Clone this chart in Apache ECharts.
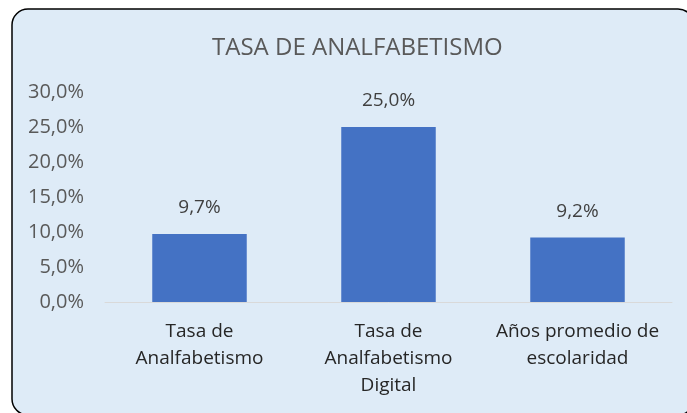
<!DOCTYPE html>
<html>
<head>
<meta charset="utf-8">
<script src="https://cdn.jsdelivr.net/npm/echarts@6/dist/echarts.min.js"></script>
<style>
  html, body { margin: 0; padding: 0; background: #fff; }
  #chart { width: 687px; height: 413px; }
</style>
</head>
<body>
<div id="chart"></div>
<script>
// categorias del eje x
var categorias = ['Tasa de\nAnalfabetismo', 'Tasa de\nAnalfabetismo\nDigital', 'Años promedio de\nescolaridad']
// valores en porcentaje
var valores = [9.7, 25.0, 9.2]
var titulo = 'TASA DE ANALFABETISMO'

var fuente = 'Open Sans'
// formato con coma decimal
function pct (v) {
  return v.toFixed(1).replace('.', ',') + '%'
}

var chart = echarts.init(document.getElementById('chart'))
chart.setOption({
  animation: false,
  graphic: [{
    type: 'rect',
    z: -10,
    shape: { x: 12, y: 9, width: 682, height: 406, r: 16 },
    style: { fill: '#DEEBF7', stroke: '#000', lineWidth: 1.5 }
  }],
  title: {
    text: titulo,
    left: 207,
    top: 31,
    textStyle: { fontFamily: fuente, fontSize: 24, fontWeight: 'normal', color: '#595959' }
  },
  grid: { left: 105, right: 15, top: 92, bottom: 111 },
  xAxis: {
    type: 'category',
    data: categorias,
    axisLine: { lineStyle: { color: '#D9D9D9', width: 1 } },
    axisTick: { show: false },
    axisLabel: {
      fontFamily: fuente, fontSize: 19, color: '#262626',
      lineHeight: 27, margin: 16, interval: 0
    }
  },
  yAxis: {
    type: 'value',
    min: 0,
    max: 30,
    interval: 5,
    splitLine: { show: false },
    axisLine: { show: false },
    axisTick: { show: false },
    axisLabel: {
      fontFamily: fuente, fontSize: 20, color: '#595959', margin: 21,
      formatter: pct
    }
  },
  series: [{
    type: 'bar',
    data: valores,
    barWidth: '50%',
    itemStyle: { color: '#4472C4' },
    label: {
      show: true,
      position: 'top',
      distance: 17,
      fontFamily: fuente, fontSize: 19, color: '#404040',
      formatter: function (p) { return pct(p.value) }
    }
  }]
})
</script>
</body>
</html>
